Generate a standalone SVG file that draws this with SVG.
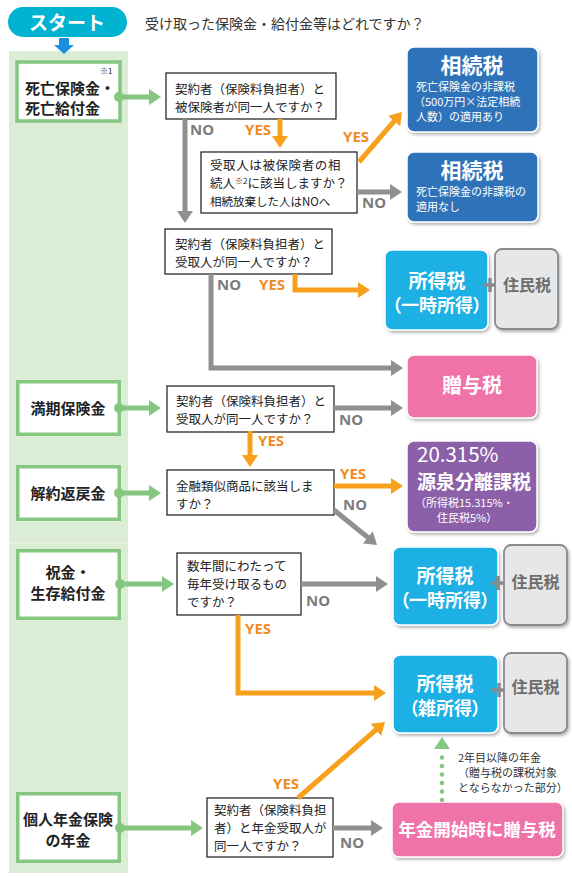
<svg xmlns="http://www.w3.org/2000/svg" width="572" height="878" viewBox="0 0 572 878">
<style>
text{font-family:"Noto Sans CJK JP","Noto Sans",sans-serif;}
.q{font-size:12.5px;fill:#222;}
.lb{font-size:15px;font-weight:bold;fill:#222;}
.lbox{fill:#fff;stroke:#85c680;stroke-width:3.5;}
.qbox{fill:#fff;stroke:#2a2a2a;stroke-width:1.3;}
.res{stroke:#fff;stroke-width:1.5;filter:url(#sh);}
.rt{font-weight:bold;fill:#fff;text-anchor:middle;}
.rs{font-size:11px;fill:#fff;}
.jum{fill:#e6e7e9;stroke:#8a8a8a;stroke-width:1.8;filter:url(#sh);}
.jt{font-size:16px;font-weight:bold;fill:#6d6d6d;text-anchor:middle;}
.plus{stroke:#8a8a8a;stroke-width:3.5;}
.yes{font-family:"Noto Sans",sans-serif;font-size:15px;font-weight:bold;fill:#f08b23;}
.no{font-family:"Noto Sans",sans-serif;font-size:15px;font-weight:bold;fill:#7c7c7c;}
.cg{fill:none;stroke:#909090;stroke-width:5;marker-end:url(#ag);}
.co{fill:none;stroke:#f7a01c;stroke-width:5;marker-end:url(#ao);}
.cn{fill:none;stroke:#85c680;stroke-width:5;marker-end:url(#an);}
.dot{fill:#85c680;}
</style>
<defs>
<filter id="sh" x="-10%" y="-10%" width="130%" height="130%"><feDropShadow dx="1.5" dy="2" stdDeviation="1.5" flood-color="#000" flood-opacity="0.3"/></filter>
<marker id="ag" viewBox="0 0 12 16" refX="1" refY="8" markerWidth="12" markerHeight="16" orient="auto" markerUnits="userSpaceOnUse"><path d="M0,0 L12,8 L0,16z" fill="#909090"/></marker>
<marker id="ao" viewBox="0 0 12 16" refX="1" refY="8" markerWidth="12" markerHeight="16" orient="auto" markerUnits="userSpaceOnUse"><path d="M0,0 L12,8 L0,16z" fill="#f7a01c"/></marker>
<marker id="an" viewBox="0 0 12 16" refX="1" refY="8" markerWidth="12" markerHeight="16" orient="auto" markerUnits="userSpaceOnUse"><path d="M0,0 L12,8 L0,16z" fill="#85c680"/></marker>
</defs>

<rect x="0" y="0" width="572" height="878" fill="#fff"/>
<rect x="9" y="51" width="119" height="822" fill="#dcedd6"/>
<line x1="9" y1="543" x2="128" y2="543" stroke="#fff" stroke-opacity="0.6" stroke-width="1"/>

<g id="start">
<rect x="8" y="7" width="119" height="30" rx="15" fill="#00b3d1"/>
<text x="67" y="29.5" text-anchor="middle" font-size="19" font-weight="bold" fill="#fff">スタート</text>
<polygon points="59,38 69,38 69,45 74,45 64,54 54,45 59,45" fill="#1a8fdf"/>
</g>
<text id="title" x="145" y="28.5" font-size="14" fill="#333">受け取った保険金・給付金等はどれですか？</text>

<g id="left-death">
<rect class="lbox" x="17" y="62" width="103" height="59"/>
<text x="100" y="74" font-size="8" fill="#222">※1</text>
<text class="lb" x="25" y="94" font-size="15.5">死亡保険金・</text>
<text class="lb" x="25" y="114" font-size="15.5">死亡給付金</text>
</g>
<g id="left-maturity">
<rect class="lbox" x="17.75" y="381.75" width="101.5" height="52.5"/>
<text class="lb" x="68" y="414" text-anchor="middle">満期保険金</text>
</g>
<g id="left-surrender">
<rect class="lbox" x="17.75" y="466.75" width="101.5" height="52.5"/>
<text class="lb" x="68" y="499" text-anchor="middle">解約返戻金</text>
</g>
<g id="left-survival">
<rect class="lbox" x="17.75" y="550.75" width="101.5" height="67.5"/>
<text class="lb" x="68" y="578" text-anchor="middle">祝金・</text>
<text class="lb" x="68" y="599" text-anchor="middle">生存給付金</text>
</g>
<g id="left-annuity">
<rect class="lbox" x="17.75" y="793.75" width="101.5" height="67.5"/>
<text class="lb" x="68" y="825" text-anchor="middle">個人年金保険</text>
<text class="lb" x="68" y="846" text-anchor="middle">の年金</text>
</g>

<g id="q1">
<rect class="qbox" x="166" y="73" width="170" height="46"/>
<text class="q" x="175" y="94" font-size="13">契約者（保険料負担者）と</text>
<text class="q" x="175" y="112" font-size="13">被保険者が同一人ですか？</text>
</g>
<g id="q2">
<rect class="qbox" x="201" y="152" width="156" height="61"/>
<text class="q" x="210" y="170" font-size="13" letter-spacing="0.6">受取人は被保険者の相</text>
<text class="q" x="210" y="188" font-size="13">続人<tspan font-size="8" dy="-4">※2</tspan><tspan dy="4">に該当しますか？</tspan></text>
<text x="210" y="206" font-size="11.5" fill="#222">相続放棄した人はNOへ</text>
</g>
<g id="q3">
<rect class="qbox" x="165" y="229" width="167" height="45"/>
<text class="q" x="175" y="249">契約者（保険料負担者）と</text>
<text class="q" x="175" y="267">受取人が同一人ですか？</text>
</g>
<g id="q4">
<rect class="qbox" x="167" y="386" width="167" height="46"/>
<text class="q" x="176" y="406">契約者（保険料負担者）と</text>
<text class="q" x="176" y="424">受取人が同一人ですか？</text>
</g>
<g id="q5">
<rect class="qbox" x="167" y="470" width="167" height="45"/>
<text class="q" x="176" y="491" font-size="13">金融類似商品に該当しま</text>
<text class="q" x="176" y="509" font-size="13">すか？</text>
</g>
<g id="q6">
<rect class="qbox" x="177" y="553" width="124" height="62"/>
<text class="q" x="187" y="571" font-size="13">数年間にわたって</text>
<text class="q" x="187" y="589" font-size="13">毎年受け取るもの</text>
<text class="q" x="187" y="607" font-size="13">ですか？</text>
</g>
<g id="q7">
<rect class="qbox" x="207" y="798" width="126" height="59"/>
<text class="q" x="214" y="815">契約者（保険料負担</text>
<text class="q" x="214" y="833">者）と年金受取人が</text>
<text class="q" x="214" y="851">同一人ですか？</text>
</g>

<g id="r-inherit1">
<rect class="res" x="407" y="47" width="131" height="85" rx="7" fill="#2f73ba"/>
<text class="rt" x="472" y="73" font-size="21">相続税</text>
<text class="rs" x="416" y="91">死亡保険金の非課税</text>
<text class="rs" x="414" y="106">（500万円×法定相続</text>
<text class="rs" x="416" y="121">人数）の適用あり</text>
</g>
<g id="r-inherit2">
<rect class="res" x="407" y="152" width="131" height="70" rx="7" fill="#2f73ba"/>
<text class="rt" x="472" y="178" font-size="21">相続税</text>
<text class="rs" x="416" y="196">死亡保険金の非課税の</text>
<text class="rs" x="416" y="211">適用なし</text>
</g>
<g id="r-income1">
<rect class="res" x="385" y="250" width="103" height="80" rx="7" fill="#1fb0e4"/>
<text class="rt" x="437" y="288" font-size="19">所得税</text>
<text class="rt" x="437" y="312" font-size="18" style="font-feature-settings:'palt'">（一時所得）</text>
<line class="plus" x1="483" y1="285" x2="497" y2="285"/><line class="plus" x1="490" y1="278" x2="490" y2="292"/>
<rect class="jum" x="495" y="249" width="63" height="80" rx="7"/>
<text class="jt" x="527" y="291">住民税</text>
</g>
<g id="r-gift">
<rect class="res" x="407" y="355" width="130" height="63" rx="7" fill="#ef72a9"/>
<text class="rt" x="472" y="393" font-size="20">贈与税</text>
</g>
<g id="r-separate">
<rect class="res" x="407" y="441" width="130" height="91" rx="7" fill="#8b60a8"/>
<text x="417" y="462" font-family="Noto Sans, sans-serif" font-size="20.5" fill="#fff">20.315%</text>
<text x="417" y="489" font-size="19" font-weight="bold" fill="#fff">源泉分離課税</text>
<text class="rs" x="415" y="507">（所得税15.315%・</text>
<text class="rs" x="437" y="522">住民税5%）</text>
</g>
<g id="r-income2">
<rect class="res" x="393" y="547" width="105" height="78" rx="7" fill="#1fb0e4"/>
<text class="rt" x="445" y="583" font-size="19">所得税</text>
<text class="rt" x="445" y="607" font-size="18" style="font-feature-settings:'palt'">（一時所得）</text>
<line class="plus" x1="491" y1="583" x2="505" y2="583"/><line class="plus" x1="498" y1="576" x2="498" y2="590"/>
<rect class="jum" x="504" y="545" width="63" height="80" rx="7"/>
<text class="jt" x="535.5" y="588">住民税</text>
</g>
<g id="r-income3">
<rect class="res" x="393" y="655" width="105" height="78" rx="7" fill="#1fb0e4"/>
<text class="rt" x="445" y="691" font-size="19">所得税</text>
<text class="rt" x="445" y="715" font-size="18" style="font-feature-settings:'palt'">（雑所得）</text>
<line class="plus" x1="492" y1="690" x2="506" y2="690"/><line class="plus" x1="499" y1="683" x2="499" y2="697"/>
<rect class="jum" x="504" y="653" width="63" height="80" rx="7"/>
<text class="jt" x="535.5" y="693">住民税</text>
</g>
<g id="r-annuity-gift">
<rect class="res" x="392" y="802" width="171" height="55" rx="7" fill="#ef72a9"/>
<text class="rt" x="477" y="836" font-size="17.5">年金開始時に贈与税</text>
</g>
<g id="note">
<text x="458" y="762" font-size="11" fill="#333">2年目以降の年金</text>
<text x="458" y="777" font-size="11" fill="#333">（贈与税の課税対象</text>
<text x="458" y="792" font-size="11" fill="#333">とならなかった部分）</text>
</g>

<g id="connectors">
<circle class="dot" cx="119" cy="97" r="5"/><path class="cn" d="M119,97 H150"/>
<circle class="dot" cx="119" cy="408" r="5"/><path class="cn" d="M119,408 H150"/>
<circle class="dot" cx="119" cy="493" r="5"/><path class="cn" d="M119,493 H150"/>
<circle class="dot" cx="120" cy="584" r="5"/><path class="cn" d="M120,584 H163"/>
<circle class="dot" cx="120" cy="828" r="5"/><path class="cn" d="M120,828 H192"/>
<path d="M442,800 V752" fill="none" stroke="#85c680" stroke-width="4.5" stroke-linecap="round" stroke-dasharray="0 8.5"/>
<polygon points="442,737 450,749 434,749" fill="#85c680"/>

<path class="cg" d="M185,119 V212"/>
<path class="cg" d="M357,192 H391"/>
<path class="cg" d="M211,274 V368 H392"/>
<path class="cg" d="M334,408 H392"/>
<path class="cg" d="M334,510 L368.5,538"/>
<path class="cg" d="M301,584 H377"/>
<path class="cg" d="M333,828 H372"/>

<path class="co" d="M280,119 V137"/>
<path class="co" d="M359,162 L394.8,120.3"/>
<path class="co" d="M295,274 V290 H359"/>
<path class="co" d="M250,431 V456"/>
<path class="co" d="M334,486 H392"/>
<path class="co" d="M238,615 V693 H375"/>
<path class="co" d="M298,798 L376.7,729.2"/>

<text class="no" x="190" y="135">NO</text>
<text class="yes" x="245" y="135">YES</text>
<text class="yes" x="343" y="142">YES</text>
<text class="no" x="362" y="208">NO</text>
<text class="no" x="217" y="290">NO</text>
<text class="yes" x="259" y="290">YES</text>
<text class="no" x="339" y="425">NO</text>
<text class="yes" x="258" y="446">YES</text>
<text class="yes" x="340" y="479">YES</text>
<text class="no" x="343" y="510">NO</text>
<text class="no" x="306" y="606">NO</text>
<text class="yes" x="245" y="634">YES</text>
<text class="yes" x="273" y="789">YES</text>
<text class="no" x="340" y="848">NO</text>
</g>
</svg>
